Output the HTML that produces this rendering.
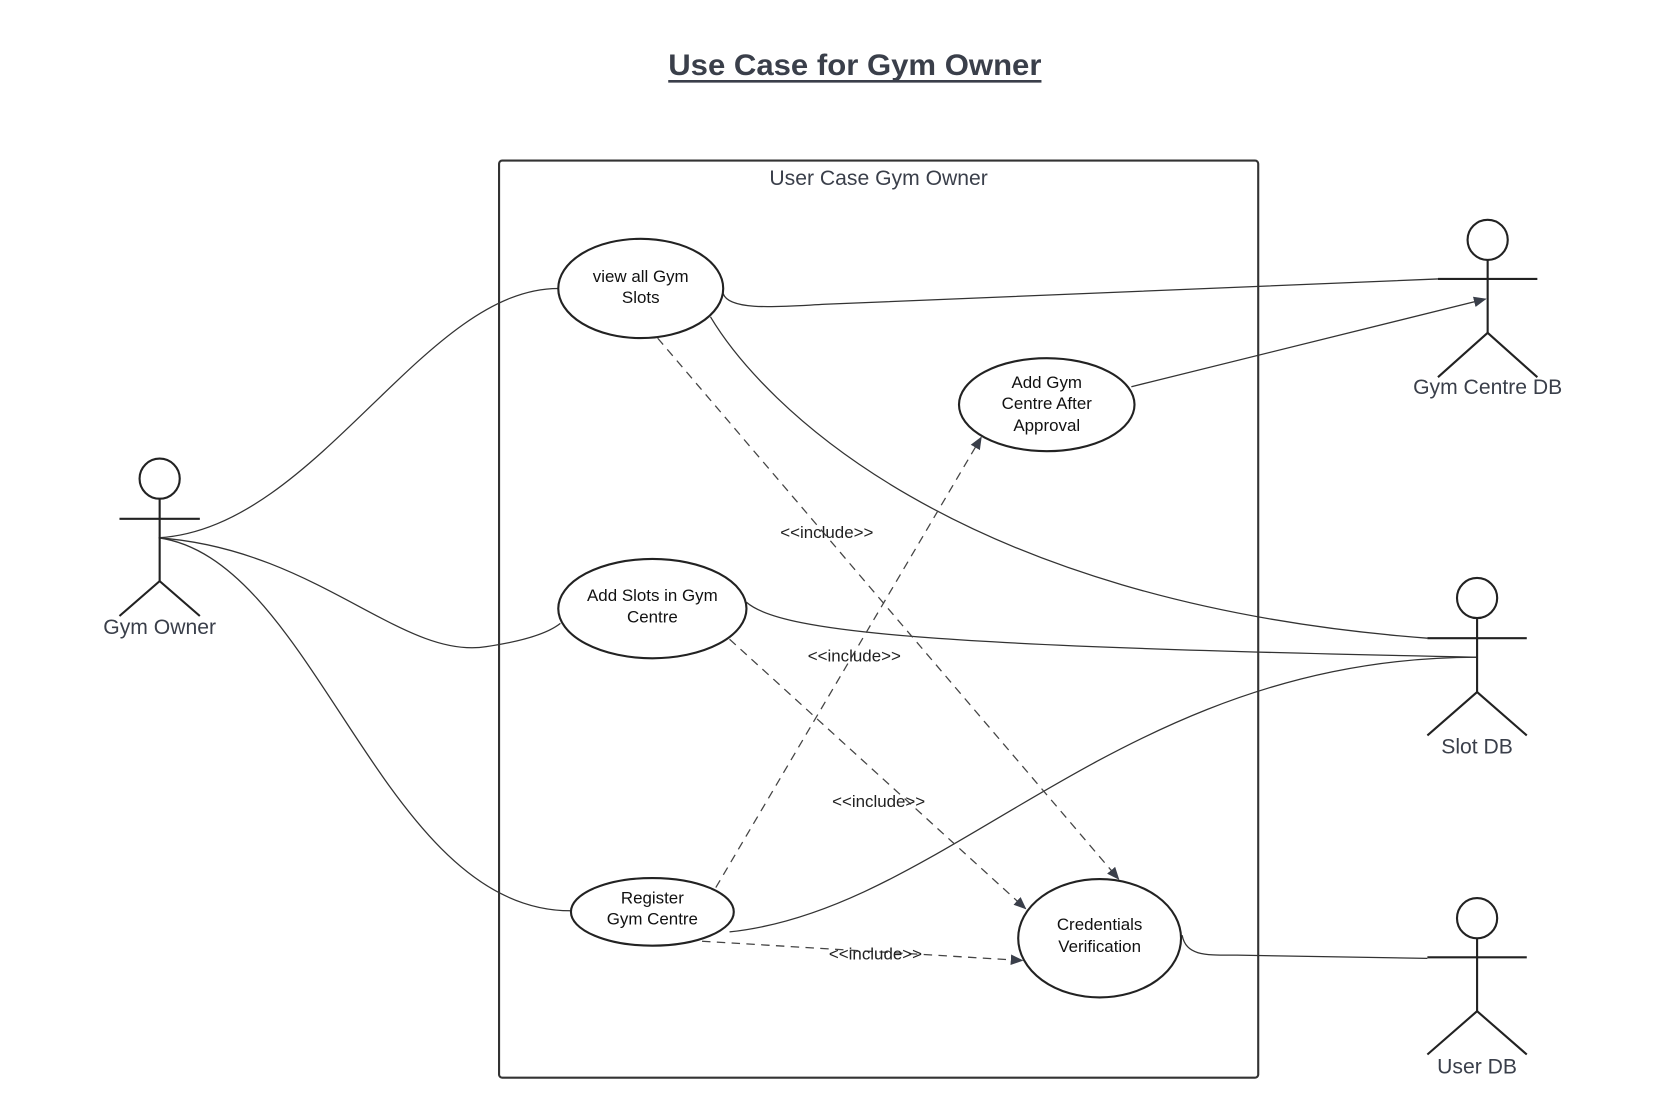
<!DOCTYPE html>
<html><head><meta charset="utf-8"><style>
html,body{margin:0;padding:0;background:#fff;}
svg{display:block;}
text{font-family:"Liberation Sans",sans-serif;}
</style></head><body>
<svg width="1660" height="1120" viewBox="0 0 1570 1060" preserveAspectRatio="none" xmlns="http://www.w3.org/2000/svg">
<defs>
<marker id="ah" markerWidth="12" markerHeight="10" refX="11" refY="5" orient="auto" markerUnits="userSpaceOnUse">
<path d="M0,0 L12,5 L0,10 z" fill="#3a3f4a"/>
</marker>
</defs>
<rect width="1570" height="1060" fill="#fff"/>
<text x="632" y="71" textLength="353" lengthAdjust="spacingAndGlyphs" font-size="28" font-weight="bold" fill="#3a3f4a">Use Case for Gym Owner</text>
<line x1="632" y1="77" x2="985" y2="77" stroke="#3a3f4a" stroke-width="2.5"/>
<rect x="472" y="152" width="718" height="868" rx="3" fill="none" stroke="#333" stroke-width="2"/>
<text x="831" y="175" text-anchor="middle" font-size="20" fill="#3a3f4a">User Case Gym Owner</text>

<g fill="none" stroke="#333" stroke-width="1.2">
<path d="M150 509 C 300 500, 400 273, 528 273"/>
<path d="M150 509 C 300 520, 380 625, 460 612 C 500 606, 520 598, 530 590"/>
<path d="M150 509 C 300 530, 360 862, 540 862"/>
<path d="M684 278 C 690 295, 740 290, 780 288 L 1360 264"/>
<path d="M672 300 C 720 380, 900 570, 1350 604"/>
<path d="M706 570 C 740 600, 900 612, 1397 622"/>
<path d="M690 882 C 900 860, 1060 622, 1397 622"/>
<path d="M1118 885 C 1122 905, 1140 904, 1170 904 L 1350 907"/>
<path d="M1070 366 L 1405 283" marker-end="url(#ah)"/>
</g>
<g fill="none" stroke="#444" stroke-width="1.2" stroke-dasharray="8,6">
<path d="M622 320 L 1058 832" marker-end="url(#ah)"/>
<path d="M677 840 L 928 414" marker-end="url(#ah)"/>
<path d="M690 605 L 970 860" marker-end="url(#ah)"/>
<path d="M650 890 L 967 909" marker-end="url(#ah)"/>
</g>
<g font-size="16" fill="#222" text-anchor="middle">
<text x="782" y="509">&lt;&lt;include&gt;&gt;</text>
<text x="808" y="626">&lt;&lt;include&gt;&gt;</text>
<text x="831" y="764">&lt;&lt;include&gt;&gt;</text>
<text x="828" y="908">&lt;&lt;include&gt;&gt;</text>
</g>

<g fill="#fff" stroke="#222" stroke-width="2">
<ellipse cx="606" cy="273" rx="78" ry="47"/>
<ellipse cx="990" cy="383" rx="83" ry="44"/>
<ellipse cx="617" cy="576" rx="89" ry="47"/>
<ellipse cx="617" cy="863" rx="77" ry="32"/>
<ellipse cx="1040" cy="888" rx="77" ry="56"/>
</g>
<g font-size="16" fill="#111" text-anchor="middle">
<text x="606" y="267">view all Gym</text><text x="606" y="287">Slots</text>
<text x="990" y="367">Add Gym</text><text x="990" y="387">Centre After</text><text x="990" y="408">Approval</text>
<text x="617" y="569">Add Slots in Gym</text><text x="617" y="589">Centre</text>
<text x="617" y="855">Register</text><text x="617" y="875">Gym Centre</text>
<text x="1040" y="880">Credentials</text><text x="1040" y="901">Verification</text>
</g>

<g fill="none" stroke="#222" stroke-width="2">
<circle cx="151" cy="453" r="19"/><line x1="151" y1="472" x2="151" y2="550"/><line x1="113" y1="491" x2="189" y2="491"/><path d="M113 583 L151 550 L189 583"/>
<circle cx="1407" cy="227" r="19"/><line x1="1407" y1="246" x2="1407" y2="315"/><line x1="1360" y1="264" x2="1454" y2="264"/><path d="M1360 357 L1407 315 L1454 357"/>
<circle cx="1397" cy="566" r="19"/><line x1="1397" y1="585" x2="1397" y2="655"/><line x1="1350" y1="604" x2="1444" y2="604"/><path d="M1350 696 L1397 655 L1444 696"/>
<circle cx="1397" cy="869" r="19"/><line x1="1397" y1="888" x2="1397" y2="957"/><line x1="1350" y1="906" x2="1444" y2="906"/><path d="M1350 998 L1397 957 L1444 998"/>
</g>
<g font-size="20" fill="#3a3f4a" text-anchor="middle">
<text x="151" y="600">Gym Owner</text>
<text x="1407" y="373">Gym Centre DB</text>
<text x="1397" y="713">Slot DB</text>
<text x="1397" y="1016">User DB</text>
</g>
</svg>
</body></html>
